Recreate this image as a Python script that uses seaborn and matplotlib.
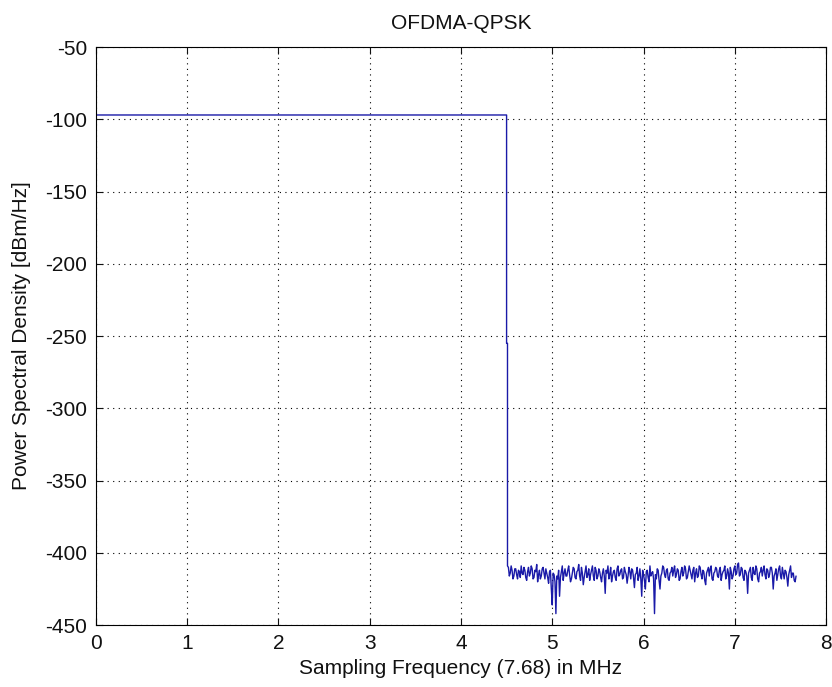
import numpy as np
import pandas as pd
import matplotlib
matplotlib.use("Agg")
import matplotlib.pyplot as plt
import seaborn as sns

# Passband (flat) and transition
band_freq = [0.0, 4.50, 4.50, 4.51, 4.51]
band_psd = [-97, -97, -255, -255, -409]

# Out-of-band noise floor (start 4.52 MHz, step 0.01 MHz)
noise_start = 4.52
noise_step = 0.01
noise_psd = [
    -410, -416, -414, -409, -412, -418, -416, -411, -411, -415, -418, -412, -413, -417, -409, -414, -415, -410, -412, -417,
    -419, -413, -410, -416, -414, -409, -411, -418, -417, -412, -413, -408, -420, -415, -412, -418, -416, -411, -410, -414,
    -418, -411, -414, -417, -421, -413, -412, -425, -436, -414, -415, -420, -442, -416, -418, -412, -430, -417, -413, -409,
    -419, -414, -411, -416, -416, -412, -409, -415, -420, -418, -414, -410, -411, -417, -418, -413, -412, -408, -416, -419,
    -410, -414, -422, -417, -413, -409, -417, -415, -411, -419, -415, -412, -409, -416, -419, -410, -412, -418, -416, -411,
    -413, -417, -420, -414, -411, -416, -428, -412, -414, -409, -418, -415, -410, -420, -416, -413, -412, -417, -419, -411,
    -409, -416, -415, -412, -411, -418, -417, -410, -413, -415, -421, -416, -410, -413, -418, -411, -412, -417, -424, -415,
    -414, -410, -419, -416, -411, -418, -430, -412, -415, -419, -425, -413, -412, -417, -420, -409, -416, -414, -413, -418,
    -442, -415, -418, -411, -412, -419, -425, -416, -414, -409, -410, -415, -417, -412, -411, -418, -419, -414, -413, -410,
    -416, -412, -409, -417, -415, -411, -412, -419, -418, -413, -410, -416, -414, -409, -411, -418, -417, -413, -409, -412,
    -415, -418, -412, -410, -420, -414, -411, -417, -416, -409, -410, -415, -418, -412, -413, -419, -422, -414, -412, -410,
    -416, -411, -409, -418, -419, -414, -413, -410, -411, -416, -417, -412, -410, -419, -415, -413, -412, -409, -418, -416,
    -411, -414, -425, -410, -413, -418, -416, -411, -409, -415, -414, -408, -407, -416, -415, -410, -411, -417, -419, -412,
    -413, -416, -428, -414, -412, -410, -417, -419, -410, -414, -415, -409, -411, -418, -420, -414, -413, -410, -416, -412,
    -409, -415, -418, -411, -412, -417, -415, -410, -410, -414, -425, -416, -414, -411, -419, -415, -411, -409, -416, -418,
    -410, -414, -418, -412, -413, -417, -423, -415, -412, -409, -417, -414, -414, -419, -420, -416,
]

xticks = [0, 1, 2, 3, 4, 5, 6, 7, 8]
yticks = [-450, -400, -350, -300, -250, -200, -150, -100, -50]

noise_freq = noise_start + noise_step * np.arange(len(noise_psd))
df = pd.DataFrame({
    "freq": np.concatenate([band_freq, noise_freq]),
    "psd": np.concatenate([band_psd, noise_psd]),
})

sns.set_style("white")
plt.rcParams["font.family"] = ["Liberation Sans", "DejaVu Sans"]

fig = plt.figure(figsize=(8.32, 6.87), dpi=100)
ax = fig.add_axes([0.115, 0.090, 0.878, 0.8415])
sns.lineplot(data=df, x="freq", y="psd", sort=False, estimator=None,
             color="#1a1aa8", linewidth=1.0, ax=ax)

ax.set_xlim(0, 8)
ax.set_ylim(-450, -50)
ax.set_xticks(xticks)
ax.set_yticks(yticks)
ax.set_xticklabels([str(t) for t in xticks])
ax.set_yticklabels([str(t) for t in yticks])
ax.grid(True, color="black", linestyle=(0, (1, 4)), linewidth=0.8)
ax.tick_params(direction="in", length=5, width=0.8, colors="#111111",
               labelsize=15, pad=6, top=True, right=True, bottom=True, left=True)
for s in ax.spines.values():
    s.set_color("black")
    s.set_linewidth(0.8)
ax.set_xlabel("Sampling Frequency (7.68) in MHz", fontsize=15, labelpad=5,
              color="#111111")
ax.set_ylabel("Power Spectral Density [dBm/Hz]", fontsize=15, labelpad=10,
              color="#111111")
ax.set_title("OFDMA-QPSK", fontsize=15, pad=13, color="#111111")

fig.savefig("out.png", dpi=100, facecolor="white")
